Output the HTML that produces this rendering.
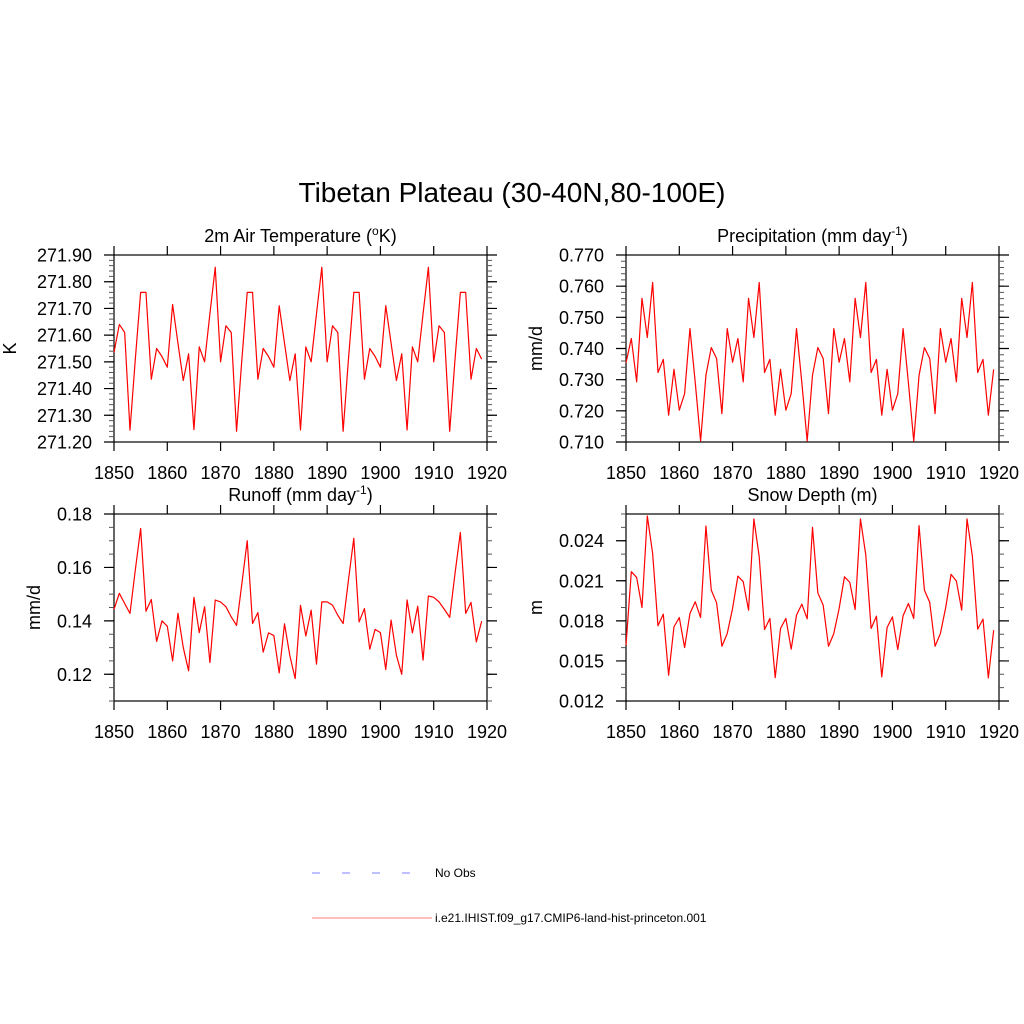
<!DOCTYPE html>
<html><head><meta charset="utf-8"><style>
body{margin:0;background:#fff;}
svg{display:block;font-family:"Liberation Sans",sans-serif;}
</style></head><body>
<svg id="chart" width="1024" height="1024" viewBox="0 0 1024 1024">
<rect width="1024" height="1024" fill="#fff"/>
<text x="512" y="202" font-size="28" text-anchor="middle">Tibetan Plateau (30-40N,80-100E)</text>
<g>
<line x1="312" y1="873" x2="420" y2="873" stroke="#a8acff" stroke-width="1.5" stroke-dasharray="8,22"/>
<text x="435" y="877" font-size="12">No Obs</text>
<line x1="312" y1="918" x2="432" y2="918" stroke="#ffaaaa" stroke-width="1.4"/>
<text x="435" y="922" font-size="12">i.e21.IHIST.f09_g17.CMIP6-land-hist-princeton.001</text>
</g>
</svg>
<script>
const years = [];
for (let y = 1850; y <= 1919; y++) years.push(y);
const xTicks = [1850, 1860, 1870, 1880, 1890, 1900, 1910, 1920];

const tempValues = [271.535,271.64,271.61,271.244,271.51,271.76,271.76,271.435,271.55,271.52,271.48,271.715,271.57,271.43,271.53,271.246,271.556,271.50,271.68,271.854,
271.50,271.635,271.61,271.24,271.51,271.76,271.76,271.435,271.55,271.52,271.48,271.71,271.57,271.43,271.53,271.245,271.556,271.50,271.68,271.854,
271.50,271.635,271.61,271.24,271.51,271.76,271.76,271.435,271.55,271.52,271.48,271.71,271.57,271.43,271.53,271.245,271.556,271.50,271.68,271.854,
271.50,271.635,271.61,271.24,271.51,271.76,271.76,271.435,271.55,271.51];
const precipValues = [0.7354,0.7432,0.7293,0.7561,0.7435,0.7612,0.7323,0.7365,0.7186,0.7333,0.7202,0.7255,0.7464,0.729,0.7103,0.7314,0.7403,0.7368,0.7191,0.7464,
0.7356,0.7432,0.7293,0.7561,0.7435,0.7612,0.7323,0.7365,0.7186,0.7333,0.7202,0.7255,0.7464,0.729,0.7103,0.7314,0.7403,0.7368,0.7191,0.7464,
0.7356,0.7432,0.7293,0.7561,0.7435,0.7612,0.7323,0.7365,0.7186,0.7333,0.7202,0.7255,0.7464,0.729,0.7103,0.7314,0.7403,0.7368,0.7191,0.7464,
0.7356,0.7432,0.7293,0.7561,0.7435,0.7612,0.7323,0.7365,0.7186,0.7333];
const runoffValues = [0.1443,0.1503,0.1465,0.1428,0.159,0.1746,0.1436,0.148,0.1323,0.14,0.138,0.125,0.1428,0.130,0.1213,0.1488,0.1356,0.1453,0.1244,0.1478,
0.1471,0.1453,0.1415,0.1383,0.154,0.170,0.139,0.1431,0.1283,0.1355,0.1345,0.1205,0.1389,0.127,0.1184,0.1458,0.1343,0.144,0.1238,0.1471,
0.1471,0.1459,0.1421,0.139,0.1553,0.1709,0.1396,0.1446,0.1294,0.1368,0.1356,0.1218,0.1403,0.1271,0.12,0.1478,0.1355,0.1455,0.1253,0.1493,
0.1488,0.1471,0.1443,0.1413,0.1578,0.1731,0.1428,0.1469,0.1321,0.1399];
const snowValues = [0.01618,0.02168,0.02125,0.019,0.02585,0.02305,0.01763,0.0185,0.01393,0.01755,0.01825,0.016,0.01855,0.01943,0.01825,0.0251,0.0203,0.01935,0.0161,0.01705,
0.01893,0.02135,0.02093,0.0188,0.02563,0.0228,0.01735,0.01818,0.01375,0.01743,0.01818,0.01588,0.01843,0.01925,0.01815,0.025,0.0201,0.01918,0.0161,0.01705,
0.01893,0.0213,0.02088,0.01885,0.02563,0.02293,0.01743,0.01835,0.0138,0.0175,0.0183,0.01585,0.01838,0.0193,0.01818,0.02513,0.0203,0.01938,0.0161,0.01705,
0.019,0.02148,0.02098,0.0188,0.02563,0.02285,0.01738,0.01813,0.01373,0.0173];

const tempTicks = ["271.20","271.30","271.40","271.50","271.60","271.70","271.80","271.90"];
const precipTicks = ["0.710","0.720","0.730","0.740","0.750","0.760","0.770"];
const runoffTicks = ["0.12","0.14","0.16","0.18"];
const snowTicks = ["0.012","0.015","0.018","0.021","0.024"];

const NS = "http://www.w3.org/2000/svg";
const svg = document.getElementById("chart");
function mk(tag, attrs, parent) {
  const e = document.createElementNS(NS, tag);
  for (const k in attrs) e.setAttribute(k, attrs[k]);
  (parent || svg).appendChild(e);
  return e;
}

const panels = [
  {key:"temperature", x0:114, x1:487, y0:255, y1:442, ymin:271.2, ymax:271.9, ticks:tempTicks, minor:0.02, vals:tempValues, title:"2m Air Temperature (", sup:"o", tail:"K)", ylab:"K", ylx:16},
  {key:"precipitation", x0:626, x1:999, y0:255, y1:442, ymin:0.71, ymax:0.77, ticks:precipTicks, minor:0.002, vals:precipValues, title:"Precipitation (mm day", sup:"-1", tail:")", ylab:"mm/d", ylx:542},
  {key:"runoff", x0:114, x1:487, y0:514, y1:701, ymin:0.11, ymax:0.18, ticks:runoffTicks, minor:0.005, vals:runoffValues, title:"Runoff (mm day", sup:"-1", tail:")", ylab:"mm/d", ylx:40},
  {key:"snow-depth", x0:626, x1:999, y0:514, y1:701, ymin:0.012, ymax:0.026, ticks:snowTicks, minor:0.001, vals:snowValues, title:"Snow Depth (m)", sup:"", tail:"", ylab:"m", ylx:542}
];

panels.forEach(p => {
  const g = mk("g", {});
  
  
  const xs = v => p.x0 + (v - 1850) / 70 * (p.x1 - p.x0);
  const ys = v => p.y1 - (v - p.ymin) / (p.ymax - p.ymin) * (p.y1 - p.y0);
  const t = mk("text", {x:(p.x0+p.x1)/2, y:p.y0-13, "font-size":18, "text-anchor":"middle"}, g);
  
  
  t.appendChild(document.createTextNode(p.title));
  if (p.sup) {
    const s = mk("tspan", {"font-size":12, dy:-7}, t); s.textContent = p.sup;
    const r = mk("tspan", {dy:7}, t); r.textContent = p.tail;
  }
  const yl = mk("text", {x:0, y:0, "font-size":18, "text-anchor":"middle", transform:`translate(${p.ylx},${(p.y0+p.y1)/2}) rotate(-90)`}, g);
  
  
  yl.textContent = p.ylab;
  const fr = mk("rect", {x:p.x0, y:p.y0, width:p.x1-p.x0, height:p.y1-p.y0, fill:"none", stroke:"#000", "stroke-width":1.2}, g);
  
  
  xTicks.forEach(v => {
    const x = xs(v);
    const tk = mk("path", {d:`M${x},${p.y1}v9M${x},${p.y0}v-9`, stroke:"#000", "stroke-width":1.2}, g);
    
    
    const lb = mk("text", {x:x, y:p.y1+37, "font-size":18, "text-anchor":"middle"}, g);
    
    
    lb.textContent = v;
  });
  const n = Math.round((p.ymax - p.ymin) / p.minor);
  for (let i = 0; i <= n; i++) {
    const y = ys(p.ymin + i * p.minor);
    const mt = mk("path", {d:`M${p.x0},${y}h-5M${p.x1},${y}h5`, stroke:"#555", "stroke-width":1}, g);
    
    
  }
  p.ticks.forEach(lbl => {
    const y = ys(parseFloat(lbl));
    const tk = mk("path", {d:`M${p.x0},${y}h-10M${p.x1},${y}h10`, stroke:"#000", "stroke-width":1.2}, g);
    
    
    const lb = mk("text", {x:p.x0-22, y:y+6.5, "font-size":18, "text-anchor":"end"}, g);
    
    
    lb.textContent = lbl;
  });
  const d = p.vals.map((v, i) => (i ? "L" : "M") + xs(years[i]).toFixed(2) + "," + ys(v).toFixed(2)).join("");
  const ln = mk("path", {d:d, fill:"none", stroke:"#ff0000", "stroke-width":1.2, "stroke-linejoin":"round"}, g);
  
  
});
</script>
</body></html>
